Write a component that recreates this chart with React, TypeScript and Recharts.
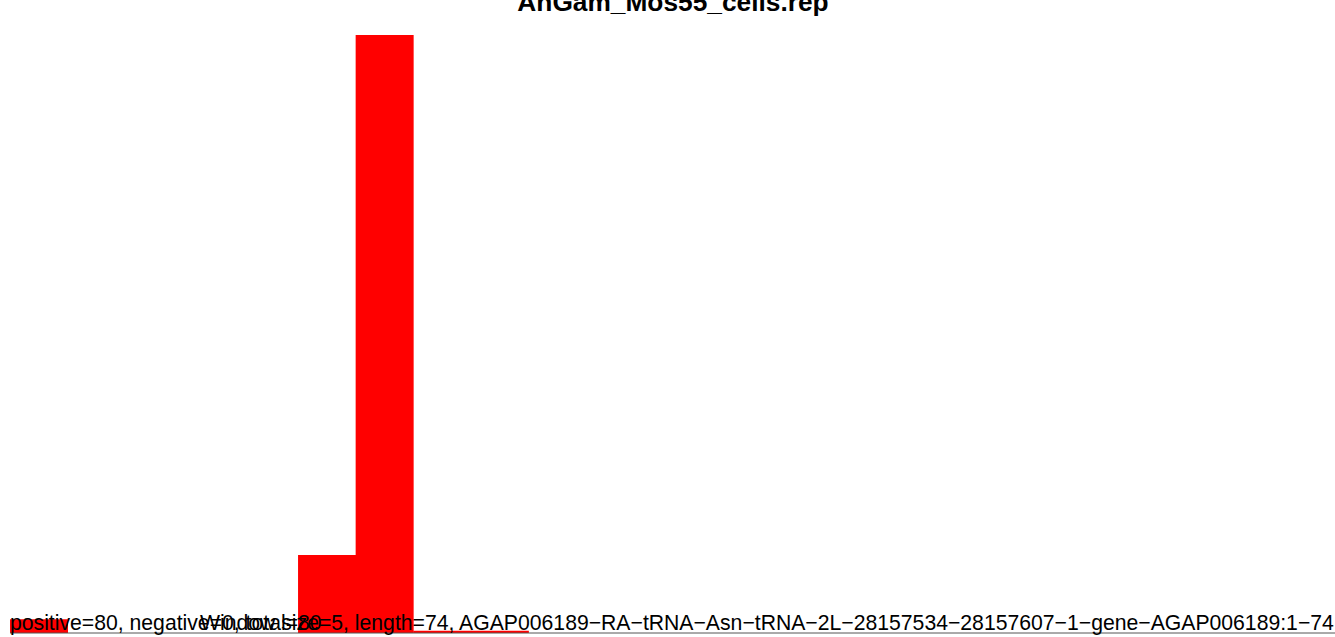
import { Bar, BarChart, XAxis, YAxis } from "recharts";

const windows = ["1", "6", "11", "16", "21", "26", "31", "36", "41", "46", "51", "56", "61", "66", "71", "76", "81", "86", "91", "96", "101", "106", "111"];
const positiveReads = [1.6, 0, 0, 0, 0, 9, 69, 0.25, 0.25, 0, 0, 0, 0, 0, 0, 0, 0, 0, 0, 0, 0, 0, 0];

const title = "AnGam_Mos55_cells.rep";
const countsLabel = "positive=80, negative=0, total=80";
const infoLabel = "Window size=5, length=74, AGAP006189\u2212RA\u2212tRNA\u2212Asn\u2212tRNA\u22122L\u221228157534\u221228157607\u22121\u2212gene\u2212AGAP006189:1\u221274";

const data = windows.map((w, i) => ({ window: w, positive: positiveReads[i] }));

export default function App() {
  return (
    <div style={{ position: "fixed", left: 0, top: 0, width: 1335, height: 637, background: "#fff", overflow: "hidden" }}>
      <BarChart
        width={1335}
        height={637}
        data={data}
        barCategoryGap={0}
        margin={{ top: 35, right: 0, bottom: 3, left: 10 }}
      >
        <XAxis dataKey="window" tick={false} tickLine={false} height={1} axisLine={{ stroke: "#555", strokeWidth: 1 }} />
        <YAxis hide domain={[0, 69]} />
        <Bar dataKey="positive" fill="#ff0000" isAnimationActive={false} />
      </BarChart>
      <svg width={1335} height={637} style={{ position: "absolute", left: 0, top: 0, pointerEvents: "none" }}>
        <text x={673} y={11} textAnchor="middle" fontFamily="'Liberation Sans', Arial, sans-serif" fontWeight="bold" fontSize={26.3} fill="#000">
          {title}
        </text>
        <text x={10} y={630} fontFamily="'Liberation Sans', Arial, sans-serif" fontSize={21.2} fill="#000">
          {countsLabel}
        </text>
        <text x={200} y={630} fontFamily="'Liberation Sans', Arial, sans-serif" fontSize={21.2} fill="#000">
          {infoLabel}
        </text>
      </svg>
    </div>
  );
}
